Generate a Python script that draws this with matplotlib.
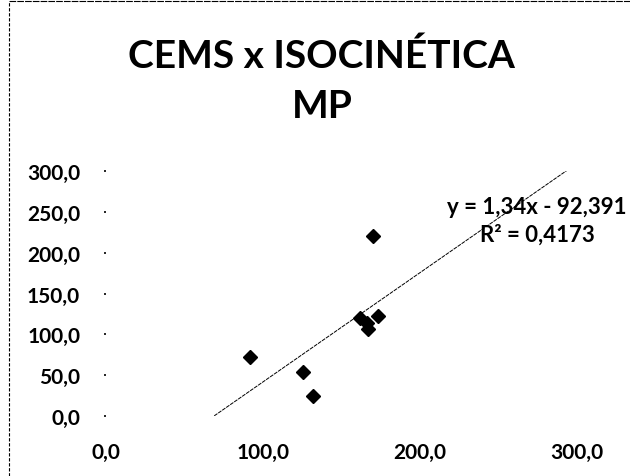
import numpy as np
import matplotlib
matplotlib.use("Agg")
import matplotlib.pyplot as plt
from matplotlib.lines import Line2D

# data
cems = [91.7, 125.5, 132.0, 162.0, 166.0, 167.0, 173.0, 170.0]
isocinetica = [72.0, 54.0, 24.0, 120.0, 114.0, 107.0, 123.0, 220.0]
slope = 1.34
intercept = -92.391
r2 = 0.4173
trend_x = [69.0, 298.0]
ticks = [0, 50, 100, 150, 200, 250, 300]
xticks = [0, 100, 200, 300]

plt.rcParams['font.family'] = ['Lato', 'DejaVu Sans']

fig = plt.figure(figsize=(6.3, 4.77), dpi=100)
ax = fig.add_axes([0.168, 0.126, 0.748, 0.513])

tx = np.array(trend_x)
ax.plot(tx, slope * tx + intercept, color='black', lw=0.7, ls=(0, (4, 1)))
ax.plot(cems, isocinetica, ls='none', marker='D', ms=7, color='black')

ax.set_xlim(0, 300)
ax.set_ylim(0, 300)
ax.set_yticks(ticks)
ax.set_yticklabels([f"{t:.1f}".replace('.', ',') for t in ticks], fontweight='bold')
ax.set_xticks(xticks)
ax.set_xticklabels([f"{t:.1f}".replace('.', ',') for t in xticks], fontweight='bold')
ax.tick_params(axis='y', length=1.5, width=1.2, pad=17, labelsize=15)
ax.tick_params(axis='x', length=0, pad=19, labelsize=15)
for s in ax.spines.values():
    s.set_visible(False)

ax.text(0.915, 0.857, f"y = {slope:.2f}x - {-intercept:.3f}".replace('.', ','),
        transform=ax.transAxes, ha='center', va='center', fontsize=16,
        fontweight='bold')
ax.text(0.915, 0.743, f"R² = {r2:.4f}".replace('.', ','), transform=ax.transAxes,
        ha='center', va='center', fontsize=16, fontweight='bold')

fig.text(0.511, 0.883, "CEMS x ISOCINÉTICA", ha='center', va='center',
         fontsize=28, fontweight='bold')
fig.text(0.511, 0.776, "MP", ha='center', va='center',
         fontsize=28, fontweight='bold')

# dotted chart border (left and top, as in the scan)
fig.add_artist(Line2D([0.014, 0.014], [0.0, 0.996], transform=fig.transFigure,
                      color='black', lw=0.8, ls=(0, (3, 1.5))))
fig.add_artist(Line2D([0.014, 1.0], [0.996, 0.996], transform=fig.transFigure,
                      color='black', lw=0.8, ls=(0, (6, 1))))

fig.savefig("out.png", dpi=100)
